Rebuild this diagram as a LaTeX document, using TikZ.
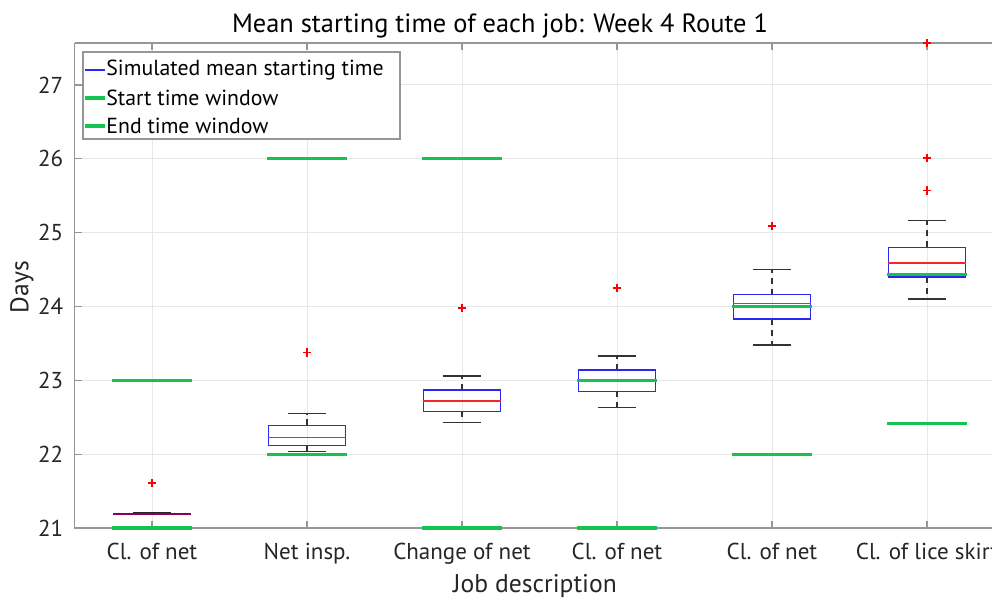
\documentclass[tikz,border=0pt]{standalone}
\usepackage{fontspec}
\setmainfont{PT Sans}
\definecolor{winGreen}{RGB}{20,195,80}
\definecolor{boxBlue}{RGB}{40,40,245}
\definecolor{medRed}{RGB}{240,40,40}
\definecolor{axisGray}{RGB}{150,150,150}
\definecolor{gridGray}{RGB}{232,232,232}
\definecolor{txtGray}{RGB}{38,38,38}
\definecolor{mergedMed}{RGB}{140,0,90}
\tikzset{
  gridline/.style={draw=gridGray, line width=0.5pt},
  axisline/.style={draw=axisGray, line width=0.6pt},
  ticklab/.style={inner sep=0pt, text=txtGray, font=\fontsize{11.5}{13}\selectfont},
  boxline/.style={draw=boxBlue, line width=0.7pt},
  medline/.style={draw=medRed, line width=0.65pt},
  capline/.style={draw=black!80, line width=0.65pt},
  whisk/.style={draw=black!80, line width=0.65pt, dash pattern=on 3pt off 2.5pt},
  winline/.style={draw=winGreen, line width=1.6pt},
  outl/.style={draw=red, line width=0.6pt},
  legtext/.style={inner sep=0pt, anchor=west, font=\fontsize{10.9}{12}\selectfont},
}
\begin{document}
\begin{tikzpicture}[x=1pt,y=1pt]
\useasboundingbox (0,0) rectangle (496,300);
\clip (0,0) rectangle (496,300);
\fill[white] (0,0) rectangle (496,300);
% data axes: x = job index, y = days
\begin{scope}[shift={(-1.5pt,-739.2pt)}, x=77.5pt, y=36.915pt]
  % grid
  \foreach \v in {22,...,27} \draw[gridline] (0.5,\v) -- (6.5,\v);
  \foreach \i in {1,...,6} \draw[gridline] (\i,21) -- (\i,27.57);
  % axes frame
  \draw[axisline] (0.5,27.57) -- (0.5,21) -- (6.5,21);
  \draw[axisline] (0.5,27.57) -- (6.5,27.57);
  \foreach \v in {21,...,27} {
    \draw[axisline] (0.5,\v) -- ++(3.5pt,0);
    \node[ticklab, anchor=east] (ylab\v) at ([xshift=-5.5pt]0.5,\v) {\v};
  }
  \foreach \i/\lab in {1/Cl. of net, 2/Net insp., 3/Change of net, 4/Cl. of net, 5/Cl. of net, 6/Cl. of lice skirt} {
    \draw[axisline] (\i,21) -- ++(0,3.5pt);
    \draw[axisline] (\i,27.57) -- ++(0,-3.5pt);
    \node[ticklab, anchor=base] (xlab\i) at ([yshift=-16pt]\i,21) {\lab};
  }
  % box plots: index / lower cap / q1 / median / q3 / upper cap
  \foreach \i/\lo/\qa/\md/\qb/\hi in {2/22.04/22.12/22.23/22.39/22.55, 3/22.43/22.58/22.72/22.87/23.06, 4/22.63/22.85/22.98/23.14/23.33, 5/23.48/23.83/24.04/24.16/24.50, 6/24.10/24.40/24.59/24.80/25.16} {
    \draw[whisk] (\i,\qb) -- (\i,\hi);
    \draw[whisk] (\i,\qa) -- (\i,\lo);
    \draw[capline] (\i-0.125,\hi) -- (\i+0.125,\hi);
    \draw[capline] (\i-0.125,\lo) -- (\i+0.125,\lo);
    \draw[boxline] (\i-0.25,\qa) rectangle (\i+0.25,\qb);
    \draw[medline] (\i-0.25,\md) -- (\i+0.25,\md);
  }
  % first job: collapsed box
  \draw[boxline, line width=1.4pt] (1-0.25,21.19) -- (1+0.25,21.19);
  \draw[draw=mergedMed, line width=0.8pt] (1-0.25,21.19) -- (1+0.25,21.19);
  \draw[draw=black!85, line width=0.7pt] (1-0.125,21.21) -- (1+0.125,21.21);
  % outliers
  \foreach \i/\v in {1/21.61, 2/23.38, 3/23.98, 4/24.25, 5/25.09, 6/27.57, 6/26.01, 6/25.57} {
    \draw[outl] ([xshift=-2.2pt]\i,\v) -- ([xshift=2.2pt]\i,\v);
    \draw[outl] ([yshift=-2.2pt]\i,\v) -- ([yshift=2.2pt]\i,\v);
  }
  % start and end time windows
  \foreach \i/\v in {1/23.0, 1/21.0, 2/22.0, 2/26.0, 3/21.0, 3/26.0, 4/21.0, 4/23.0, 5/22.0, 5/24.0, 6/22.42, 6/24.43} {
    \draw[winline] (\i-0.255,\v) -- (\i+0.255,\v);
  }
\end{scope}
% titles
\node[inner sep=0pt, text=black, font=\fontsize{13.2}{15}\selectfont, anchor=base] (title) at (250,283.5) {Mean starting time of each job: Week 4 Route 1};
\node[inner sep=0pt, text=txtGray, font=\fontsize{12.8}{15}\selectfont, anchor=base] (xtitle) at (267.5,3.5) {Job description};
\node[inner sep=0pt, text=txtGray, font=\fontsize{12.8}{15}\selectfont, rotate=90] (ytitle) at (11,156.5) {Days};
% legend
\draw[draw=axisGray, fill=white, line width=0.6pt] (41.5,230.5) rectangle (200,274);
\draw[draw=boxBlue, line width=0.6pt] (42.5,265) -- (52.5,265);
\draw[winline] (42.5,251) -- (52.5,251);
\draw[winline] (42.5,237) -- (52.5,237);
\node[legtext] (leg1) at (53,265) {Simulated mean starting time};
\node[legtext] (leg2) at (53,251) {Start time window};
\node[legtext] (leg3) at (53,237) {End time window};
\end{tikzpicture}
\end{document}
